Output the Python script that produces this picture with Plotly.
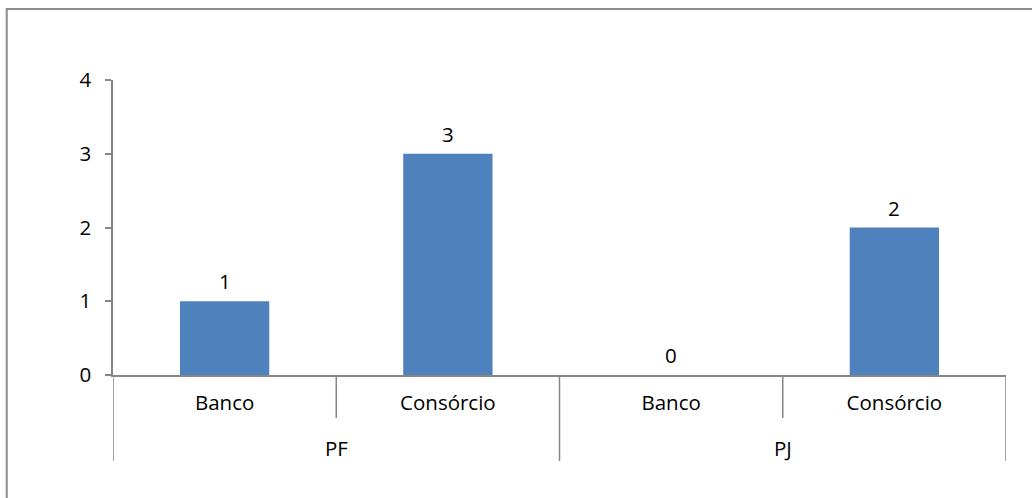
import plotly.graph_objects as go

groups = ["PF", "PF", "PJ", "PJ"]
subcats = ["Banco", "Consórcio", "Banco", "Consórcio"]
values = [1, 3, 0, 2]
group_labels = ["PF", "PJ"]
y_ticks = [0, 1, 2, 3, 4]

x_idx = list(range(len(values)))
FONT = "Open Sans"
FS = 20.5
AX = "#868686"

fig = go.Figure()
fig.add_trace(go.Bar(x=x_idx, y=values, marker=dict(color="#4F81BD", line=dict(width=0)),
                     width=0.4, hoverinfo="skip"))

annotations = []
for xi, v in zip(x_idx, values):
    annotations.append(dict(x=xi, y=v, xref="x", yref="y", text=str(v), showarrow=False,
                            yanchor="bottom", yshift=4, font=dict(family=FONT, size=FS, color="#000")))
# group labels
for gi, g in enumerate(group_labels):
    annotations.append(dict(x=gi * 2 + 0.5, y=-0.248, xref="x", yref="paper", text=g, showarrow=False,
                            yanchor="middle", font=dict(family=FONT, size=FS, color="#000")))

shapes = []
# short dividers between subcategories
for b in [0.5, 2.5]:
    shapes.append(dict(type="line", x0=b, x1=b, xref="x", y0=0, y1=-0.146, yref="paper",
                       line=dict(color=AX, width=1.5)))
# long dividers at group boundaries
for b in [-0.5, 1.5, 3.5]:
    shapes.append(dict(type="line", x0=b, x1=b, xref="x", y0=0, y1=-0.2915, yref="paper",
                       line=dict(color=AX, width=1.5)))
# chart border (top & left visible)
shapes.append(dict(type="rect", x0=-0.119, x1=1.2, y0=-0.6, y1=1.2407, xref="paper", yref="paper",
                   line=dict(color="#8C8C8C", width=2), fillcolor="rgba(0,0,0,0)", layer="below"))

fig.update_layout(
    width=1032, height=498,
    margin=dict(l=113, r=26, t=80, b=123),
    paper_bgcolor="white", plot_bgcolor="white",
    showlegend=False,
    bargap=0.6,
    annotations=annotations,
    shapes=shapes,
    xaxis=dict(range=[-0.5, 3.5], tickvals=x_idx, ticktext=subcats, showgrid=False, zeroline=False,
               showline=True, linecolor=AX, linewidth=1.5, ticks="", ticklabelstandoff=9,
               tickfont=dict(family=FONT, size=FS, color="#000"), fixedrange=True),
    yaxis=dict(range=[0, 4], tickvals=y_ticks, showgrid=False, zeroline=False,
               showline=True, linecolor=AX, linewidth=1.5, ticks="outside", ticklen=6, tickcolor=AX,
               tickwidth=1.5, ticklabelstandoff=10,
               tickfont=dict(family=FONT, size=FS, color="#000"), fixedrange=True),
)

fig.write_html("out.html", config={"displayModeBar": False})
